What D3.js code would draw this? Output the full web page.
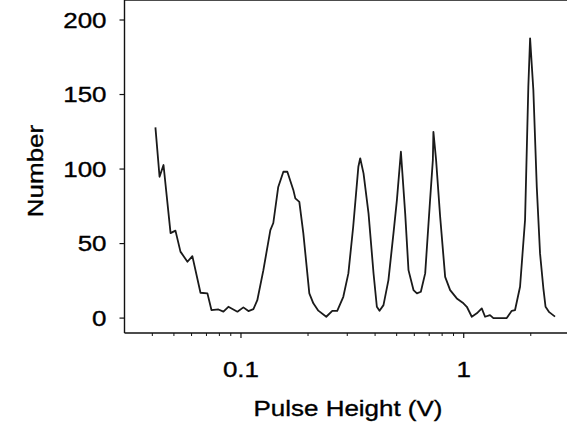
<!DOCTYPE html>
<html>
<head>
<meta charset="utf-8">
<script src="https://cdn.jsdelivr.net/npm/d3@7"></script>
<style>
  body { margin: 0; background: #fff; }
  svg { display: block; }
  text { font-family: "Liberation Sans", Arial, sans-serif; fill: #000; stroke: #000; stroke-width: 0.35px; }
</style>
</head>
<body>
<script>
// pulse height spectrum
var pulseHeight = [0.0413, 0.0431, 0.0449, 0.0483, 0.0508, 0.0535, 0.0575, 0.0605, 0.0658, 0.0707,
	0.0737, 0.0792, 0.0834, 0.0878, 0.0964, 0.1025, 0.108, 0.1137, 0.1184, 0.126,
	0.1355, 0.1397, 0.147, 0.155, 0.1615, 0.1718, 0.1754, 0.1828, 0.1905, 0.2027,
	0.2113, 0.2225, 0.2415, 0.257, 0.2705, 0.288, 0.3035, 0.319, 0.3365, 0.343,
	0.355, 0.3738, 0.3936, 0.4074, 0.4188, 0.4363, 0.4592, 0.4837, 0.5012, 0.5224,
	0.546, 0.565, 0.595, 0.6166, 0.642, 0.6714, 0.7063, 0.7268, 0.731, 0.7516,
	0.7838, 0.8253, 0.869, 0.931, 0.997, 1.0327, 1.087, 1.145, 1.205, 1.247,
	1.312, 1.359, 1.56, 1.643, 1.70, 1.79, 1.885, 1.95, 1.986, 2.054,
	2.128, 2.201, 2.278, 2.33, 2.42, 2.57];
var counts = [128, 94.8, 102.7, 57, 58.7, 44.6, 37.8, 41.6, 17, 16.6,
	5.4, 5.8, 4.3, 7.6, 4.3, 7.2, 4.7, 6, 12, 32,
	59, 63.8, 88, 98.2, 98.2, 86, 80.3, 78, 57, 16.6,
	9.9, 5, 0.9, 4.9, 4.9, 14.3, 30, 61.3, 101.5, 107.2,
	97.1, 70.3, 30.1, 7.6, 4.9, 8.7, 25.5, 56.8, 79.2, 111.6,
	70.3, 32.2, 18.8, 16.6, 17.7, 30, 79.2, 106, 125, 106,
	68, 27.7, 18.8, 13.2, 9.9, 7.6, 0.9, 3.2, 6.5, 0.9,
	2, 0, 0, 4.9, 5.4, 21, 65.8, 155, 187.7, 153,
	88, 43.4, 20, 7.6, 4, 1];

var yTicks = [0, 50, 100, 150, 200];
var xMajor = [0.1, 1];
var xMinor = [0.04, 0.05, 0.06, 0.07, 0.08, 0.09, 0.2, 0.3, 0.4, 0.5, 0.6, 0.7, 0.8, 0.9, 2];
var xLabels = ["0.1", "1"];

var width = 567, height = 425;
var stretch = 1.18; // the scanned lettering is wider than Arial

var svg = d3.select("body").append("svg")
	.attr("width", width)
	.attr("height", height);

var x = d3.scaleLog().domain([0.03, 3]).range([124.5, 570]);
var y = d3.scaleLinear().domain([-10, 200]).range([333, 20]);

var left = x(0.03), top = y(200), bottom = y(-10);

// frame: left, top, bottom (right side is cut off in the scan)
var frame = svg.append("g").attr("stroke", "#111").attr("stroke-width", 1.4);
frame.append("line").attr("x1", left).attr("x2", left).attr("y1", top).attr("y2", bottom);
frame.append("line").attr("x1", left).attr("x2", width).attr("y1", top).attr("y2", top);
frame.append("line").attr("x1", left).attr("x2", width).attr("y1", bottom).attr("y2", bottom);

// y ticks
svg.append("g").selectAll("line").data(yTicks).enter().append("line")
	.attr("x1", left - 5).attr("x2", left)
	.attr("y1", function(d) { return y(d); })
	.attr("y2", function(d) { return y(d); })
	.attr("stroke", "#111").attr("stroke-width", 1.2);

svg.append("g").selectAll("text").data(yTicks).enter().append("text")
	.attr("text-anchor", "end")
	.attr("font-size", 22)
	.attr("transform", function(d) {
		return "translate(106.5," + (y(d) + 7.5) + ") scale(" + stretch + ",1)";
	})
	.text(function(d) { return d; });

// x ticks
svg.append("g").selectAll("line").data(xMinor).enter().append("line")
	.attr("x1", function(d) { return x(d); })
	.attr("x2", function(d) { return x(d); })
	.attr("y1", bottom).attr("y2", bottom + 3)
	.attr("stroke", "#111").attr("stroke-width", 1);

svg.append("g").selectAll("line").data(xMajor).enter().append("line")
	.attr("x1", function(d) { return x(d); })
	.attr("x2", function(d) { return x(d); })
	.attr("y1", bottom).attr("y2", bottom + 5)
	.attr("stroke", "#111").attr("stroke-width", 1.2);

svg.append("g").selectAll("text").data(xMajor).enter().append("text")
	.attr("text-anchor", "middle")
	.attr("font-size", 22)
	.attr("transform", function(d) {
		return "translate(" + x(d) + ",377) scale(" + stretch + ",1)";
	})
	.text(function(d, i) { return xLabels[i]; });

// axis titles
svg.append("text")
	.attr("text-anchor", "middle")
	.attr("font-size", 22)
	.attr("transform", "translate(348,416) scale(" + stretch + ",1)")
	.text("Pulse Height (V)");

svg.append("text")
	.attr("text-anchor", "middle")
	.attr("font-size", 22)
	.attr("transform", "translate(43,171) rotate(-90) scale(" + stretch + ",1)")
	.text("Number");

// spectrum
var line = d3.line()
	.x(function(d) { return x(d[0]); })
	.y(function(d) { return y(d[1]); });

svg.append("path")
	.datum(d3.zip(pulseHeight, counts))
	.attr("d", line)
	.attr("fill", "none")
	.attr("stroke", "#1a1a1a")
	.attr("stroke-width", 1.8)
	.attr("stroke-linejoin", "round");
</script>
</body>
</html>
